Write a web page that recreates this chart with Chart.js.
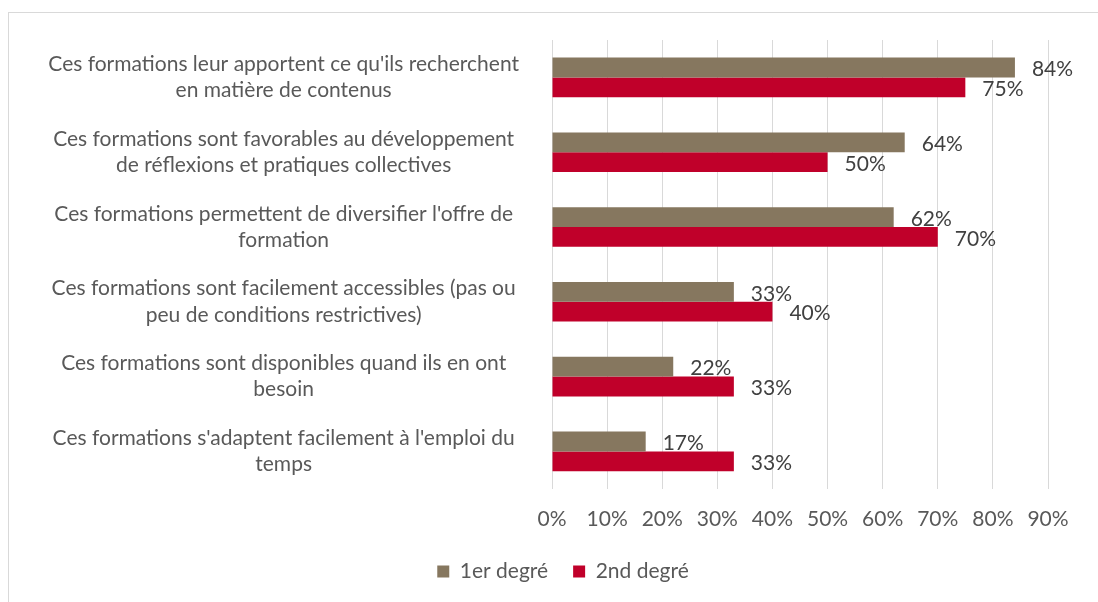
<!DOCTYPE html>
<html>
<head>
<meta charset="utf-8">
<script src="https://cdn.jsdelivr.net/npm/chart.js@4/dist/chart.umd.min.js"></script>
<style>
  html, body { margin: 0; padding: 0; background: #ffffff; }
  #wrap { position: relative; width: 1098px; height: 602px; overflow: hidden; }
  #frame { position: absolute; left: 8px; top: 12px; width: 1200px; height: 700px;
           border-left: 1px solid #d9d9d9; border-top: 1px solid #d9d9d9; }
  canvas { position: absolute; left: 0; top: 0; }
</style>
</head>
<body>
<div id="wrap">
  <div id="frame"></div>
  <canvas id="c" width="1098" height="602"></canvas>
</div>
<script>
const categories = [
  ["Ces formations leur apportent ce qu'ils recherchent", "en matière de contenus"],
  ["Ces formations sont favorables au développement", "de réflexions et pratiques collectives"],
  ["Ces formations permettent de diversifier l'offre de", "formation"],
  ["Ces formations sont facilement accessibles (pas ou", "peu de conditions restrictives)"],
  ["Ces formations sont disponibles quand ils en ont", "besoin"],
  ["Ces formations s'adaptent facilement à l'emploi du", "temps"]
];
const seriesNames = ["1er degré", "2nd degré"];
const premierDegre = [84, 64, 62, 33, 22, 17];
const secondDegre = [75, 50, 70, 40, 33, 33];
const xTicks = [0, 10, 20, 30, 40, 50, 60, 70, 80, 90];

const FONT = "Lato";
const FS = 21;
const colors = ["#86775F", "#C0002A"];
const PAD_LEFT = 30;
const PLOT_LEFT = 552;

const valueLabels = {
  id: 'valueLabels',
  afterDatasetsDraw(chart) {
    const ctx = chart.ctx;
    ctx.save();
    ctx.font = FS + "px " + FONT;
    ctx.fillStyle = "#404040";
    ctx.textAlign = "left";
    ctx.textBaseline = "middle";
    chart.data.datasets.forEach((ds, i) => {
      const meta = chart.getDatasetMeta(i);
      meta.data.forEach((el, j) => {
        ctx.fillText(ds.data[j] + "%", el.x + 17, el.y + 2);
      });
    });
    ctx.restore();
  }
};

const legendShift = {
  id: 'legendShift',
  afterLayout(chart) {
    const lg = chart.legend;
    if (!lg) return;
    lg.left += 24; lg.right += 24;
    lg.top -= 14; lg.bottom -= 14;
  }
};

new Chart(document.getElementById('c'), {
  type: 'bar',
  data: {
    labels: categories,
    datasets: [
      { label: seriesNames[0], data: premierDegre, backgroundColor: colors[0] },
      { label: seriesNames[1], data: secondDegre, backgroundColor: colors[1] }
    ]
  },
  options: {
    indexAxis: 'y',
    responsive: false,
    animation: false,
    events: [],
    layout: { padding: { top: 40, right: 50, left: PAD_LEFT, bottom: -4 } },
    datasets: { bar: { categoryPercentage: 0.53, barPercentage: 1.0 } },
    scales: {
      x: {
        min: 0, max: 90,
        afterBuildTicks(axis) { axis.ticks = xTicks.map(v => ({ value: v })); },
        afterFit(axis) { axis.paddingLeft = 0; axis.paddingRight = 0; },
        grid: { color: "#d9d9d9", lineWidth: 1, drawTicks: false },
        border: { display: false },
        ticks: {
          color: "#595959",
          font: { family: FONT, size: FS },
          padding: 18,
          callback: v => v + "%"
        }
      },
      y: {
        afterFit(axis) { axis.width = PLOT_LEFT - PAD_LEFT; axis.paddingTop = 0; axis.paddingBottom = 0; },
        grid: { display: false },
        border: { display: true, color: "#d9d9d9", width: 1 },
        ticks: {
          color: "#595959",
          crossAlign: 'center',
          padding: 25,
          font: { family: FONT, size: FS, lineHeight: 1.25 }
        }
      }
    },
    plugins: {
      legend: {
        position: 'bottom',
        labels: {
          color: "#595959",
          font: { family: FONT, size: FS },
          boxWidth: 12, boxHeight: 12,
          padding: 25
        }
      },
      tooltip: { enabled: false }
    }
  },
  plugins: [valueLabels, legendShift]
});
</script>
</body>
</html>
